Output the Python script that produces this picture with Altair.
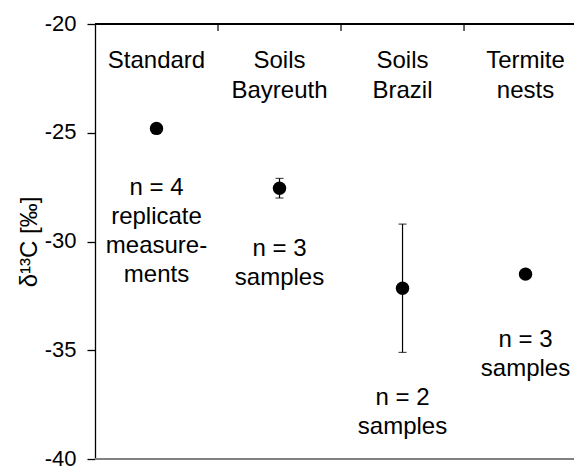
import altair as alt
import pandas as pd

# ---- data ----
categories = ["Standard", "Soils\nBayreuth", "Soils\nBrazil", "Termite\nnests"]
cat_pos = [0.5, 1.5, 2.5, 3.5]
means = [-24.8, -27.55, -32.15, -31.5]
errors = [0.1, 0.45, 2.95, 0.1]
notes = ["n = 4\nreplicate\nmeasure-\nments", "n = 3\nsamples", "n = 2\nsamples", "n = 3\nsamples"]
note_y = [-27.86, -30.67, -37.52, -34.85]
header_y = [-22.02, -22.02, -22.02, -22.02]
boundaries = [1, 2, 3]
y_ticks = [-40, -35, -30, -25, -20]

FONT = "Liberation Sans"
W, H = 479, 435

df = pd.DataFrame({
    "cat": categories,
    "x": cat_pos,
    "mean": means,
    "lo": [m - e for m, e in zip(means, errors)],
    "hi": [m + e for m, e in zip(means, errors)],
    "note": notes,
    "note_y": note_y,
    "header_y": header_y,
})
bdf = pd.DataFrame({"b": boundaries})

xs = alt.Scale(domain=[0, 3.894], nice=False, zero=False)
ys = alt.Scale(domain=[-40, -20], nice=False, zero=False)

yaxis = alt.Axis(
    values=y_ticks, labelExpr="'' + datum.value", labelFont=FONT, labelFontSize=22,
    labelColor="black", labelPadding=11, labelOffset=-1, tickColor="black", tickSize=8,
    tickWidth=1.3, domainColor="black", domainWidth=1.3, grid=False,
    title="δ¹³C [‰]", titleFont=FONT, titleFontSize=24, titleFontWeight="normal",
    titleColor="black", titlePadding=3,
)

base = alt.Chart(df)

points = base.mark_point(filled=True, color="black", size=180, opacity=1).encode(
    x=alt.X("x:Q", scale=xs, axis=None),
    y=alt.Y("mean:Q", scale=ys, axis=yaxis),
)

bars = base.mark_rule(color="black", strokeWidth=1.2).encode(
    x=alt.X("x:Q", scale=xs, axis=None),
    y=alt.Y("lo:Q", scale=ys, axis=yaxis),
    y2="hi:Q",
)

cap_lo = base.mark_tick(color="black", thickness=1.2, size=8, orient="horizontal").encode(
    x=alt.X("x:Q", scale=xs, axis=None),
    y=alt.Y("lo:Q", scale=ys, axis=yaxis),
)
cap_hi = base.mark_tick(color="black", thickness=1.2, size=8, orient="horizontal").encode(
    x=alt.X("x:Q", scale=xs, axis=None),
    y=alt.Y("hi:Q", scale=ys, axis=yaxis),
)

headers = base.mark_text(font=FONT, fontSize=24, color="black", lineBreak="\n",
                         lineHeight=30, align="center", baseline="alphabetic").encode(
    x=alt.X("x:Q", scale=xs, axis=None),
    y=alt.Y("header_y:Q", scale=ys, axis=yaxis),
    text="cat:N",
)

note_text = base.mark_text(font=FONT, fontSize=24, color="black", lineBreak="\n",
                           lineHeight=29, align="center", baseline="alphabetic").encode(
    x=alt.X("x:Q", scale=xs, axis=None),
    y=alt.Y("note_y:Q", scale=ys, axis=yaxis),
    text="note:N",
)

top_line = alt.Chart(df).mark_rule(color="black", strokeWidth=1.3).encode(
    x=alt.value(0), x2=alt.value(W), y=alt.value(0)
)
bottom_line = alt.Chart(df).mark_rule(color="#808080", strokeWidth=1.3).encode(
    x=alt.value(0), x2=alt.value(W), y=alt.value(H)
)
top_ticks = alt.Chart(bdf).mark_rule(color="black", strokeWidth=1.2).encode(
    x=alt.X("b:Q", scale=xs, axis=None), y=alt.value(0), y2=alt.value(7)
)

chart = alt.layer(
    top_line, bottom_line, top_ticks, bars, cap_lo, cap_hi, points, headers, note_text
).properties(
    width=W, height=H,
    autosize=alt.AutoSizeParams(type="none"),
    padding={"left": 95, "top": 24, "right": 0, "bottom": 9},
).configure_view(stroke=None).configure(background="white")

chart.save("out.html", embed_options={"renderer": "svg", "actions": False})
